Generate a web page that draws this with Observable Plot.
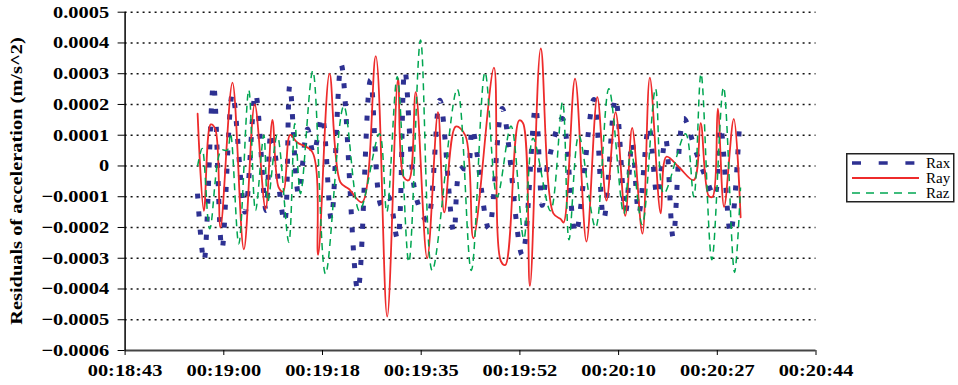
<!DOCTYPE html>
<html><head><meta charset="utf-8">
<script src="https://cdn.jsdelivr.net/npm/d3@7"></script>
<script src="https://cdn.jsdelivr.net/npm/@observablehq/plot@0.6"></script>
<style>
body{margin:0;background:#fff;}
#wrap{position:relative;width:958px;height:385px;overflow:hidden;}
#wrap svg.plot{position:absolute;left:0;top:0;}
#legend{position:absolute;left:846px;top:153px;}
</style></head>
<body><div id="wrap"></div>
<script>
// Time axis: seconds elapsed since 00:18:43
const xTickLabels = ["00:18:43","00:19:00","00:19:18","00:19:35","00:19:52","00:20:10","00:20:27","00:20:44"];
const yTickValues = [-0.0006,-0.0005,-0.0004,-0.0003,-0.0002,-0.0001,0,0.0001,0.0002,0.0003,0.0004,0.0005];
const yTickLabels = ["\u22120.0006","\u22120.0005","\u22120.0004","\u22120.0003","\u22120.0002","\u22120.0001","0","0.0001","0.0002","0.0003","0.0004","0.0005"];
const seriesNames = ["Rax","Ray","Raz"];
const yTitle = "Residuals of acceleration (m/s^2)";

const raxT = [12.68,13.82,15.48,16.97,18.81,21.00,22.84,24.68,25.59,27.92,28.85,30.37,31.95,33.00,34.49,36.10,37.85,40.75,42.98,44.91,46.13,47.71,48.99,50.98,52.91,55.12,57.57,58.74,59.92,60.79,63.70,66.05,69.55,71.88,73.05,73.98,76.55,78.88,82.09,83.84,85.89,87.64,88.81,89.97,91.72,93.19,94.65,95.99,97.85,99.90,101.95,103.23,104.28,106.03,107.66];
const raxV = [-0.9e-4,-3.1e-4,2.65e-4,-2.7e-4,2.35e-4,-1.5e-4,2.36e-4,-1.45e-4,1.1e-4,-1.83e-4,2.63e-4,-0.9e-4,1.2e-4,0.4e-4,1.6e-4,-1.72e-4,3.3e-4,-4.05e-4,2.8e-4,-1.3e-4,-1.0e-4,-2.37e-4,3.09e-4,-1.03e-4,-1.77e-4,2.14e-4,-2.15e-4,-0.1e-4,-0.09e-4,1.22e-4,-2.04e-4,1.87e-4,-2.9e-4,1.92e-4,-1.28e-4,0.0e-4,1.54e-4,-2.2e-4,2.16e-4,-1.72e-4,2.2e-4,-1.5e-4,0.78e-4,-1.55e-4,1.29e-4,-0.96e-4,0.89e-4,-2.32e-4,1.54e-4,0.5e-4,-0.5e-4,-1.0e-4,1.27e-4,-2.2e-4,1.54e-4];

const rayT = [12.7,13.8,15.0,15.8,16.7,18.8,20.8,22.7,24.6,25.8,26.9,27.7,28.9,30.1,32.8,33.8,35.8,37.7,39.2,41.5,43.9,45.9,47.8,48.8,49.7,50.9,52.9,54.8,55.9,57.9,59.6,61.0,64.6,65.8,66.6,69.0,69.7,70.9,72.8,75.0,76.3,76.8,78.8,80.8,82.7,84.3,85.9,87.6,88.8,90.6,91.9,93.8,94.8,97.0,99.6,100.8,102.2,102.9,103.8,104.9,106.6,107.8];
const rayV = [1.70e-4,-1.46e-4,1.35e-4,1.20e-4,-2.00e-4,2.71e-4,-2.71e-4,2.00e-4,-1.40e-4,1.50e-4,-0.70e-4,-0.83e-4,1.01e-4,0.77e-4,0.45e-4,-2.89e-4,3.00e-4,-0.53e-4,-0.75e-4,-1.18e-4,3.57e-4,-4.90e-4,2.84e-4,-0.37e-4,-0.46e-4,2.40e-4,-3.00e-4,1.75e-4,-1.51e-4,1.28e-4,0.99e-4,-2.35e-4,3.20e-4,-3.09e-4,-3.22e-4,1.48e-4,1.39e-4,-3.90e-4,3.82e-4,-1.54e-4,-1.73e-4,-1.84e-4,2.84e-4,-2.46e-4,2.24e-4,-1.13e-4,1.75e-4,-1.62e-4,1.24e-4,-2.20e-4,2.87e-4,-1.54e-4,0.30e-4,-0.04e-4,-0.46e-4,1.39e-4,-0.97e-4,-1.00e-4,1.86e-4,-1.33e-4,1.53e-4,-1.67e-4];

const razT = [12.7,13.5,14.83,16.83,17.88,18.46,19.91,21.66,22.84,24.29,24.99,26.64,28.67,29.72,30.72,32.87,35.10,38.30,41.05,44.55,45.83,47.66,49.69,51.74,53.79,58.16,60.63,63.03,65.17,67.59,69.83,71.44,74.50,76.61,77.74,79.46,82.39,84.72,87.34,88.60,90.56,92.89,94.35,98.15,99.60,100.86,102.76,104.80,106.73,107.78];
const razV = [0,0.57e-4,-2.04e-4,0.51e-4,0.51e-4,1.05e-4,-2.53e-4,2.47e-4,-1.45e-4,1.0e-4,-1.17e-4,1.0e-4,-2.48e-4,1.38e-4,-0.9e-4,3.09e-4,-3.51e-4,1.95e-4,-1.46e-4,1.05e-4,-1.5e-4,2.9e-4,-3.13e-4,4.1e-4,-3.4e-4,2.5e-4,-3.4e-4,3.05e-4,-1.0e-4,1.3e-4,-2.37e-4,0.9e-4,-1.46e-4,2.08e-4,-2.4e-4,1.0e-4,-2.0e-4,2.51e-4,-1.55e-4,0.5e-4,-1.9e-4,2.51e-4,-0.9e-4,1.05e-4,-1.0e-4,3.0e-4,-3.05e-4,2.56e-4,-3.46e-4,-0.7e-4];

const colors = {Rax: "#2e3192", Ray: "#ee2b2b", Raz: "#00a651"};
const toRows = (T, V) => T.map((t, i) => ({t, v: V[i]}));
const rax = toRows(raxT, raxV), ray = toRows(rayT, rayV), raz = toRows(razT, razV);

const x0 = 0, x1 = 121;
const step = (x1 - x0) / (xTickLabels.length - 1);
const xTickValues = xTickLabels.map((_, i) => x0 + i * step);
const yLabel = d => yTickLabels[yTickValues.findIndex(v => Math.abs(v - d) < 1e-9)];
const xLabel = d => xTickLabels[Math.round((d - x0) / step)];

const svg = Plot.plot({
  width: 958, height: 385,
  marginLeft: 124.6, marginRight: 142.5, marginTop: 11.7, marginBottom: 35,
  style: {fontFamily: '"Liberation Serif","Times New Roman",serif', fontSize: "17px", fontWeight: "bold", background: "white", color: "black", overflow: "visible"},
  x: {domain: [x0, x1]},
  y: {domain: [yTickValues[0], yTickValues[yTickValues.length - 1]]},
  marks: [
    Plot.ruleY(yTickValues.slice(1), {stroke: "#111", strokeWidth: 1.4, strokeDasharray: "2,4"}),
    Plot.line(rax, {x: "t", y: "v", stroke: colors.Rax, strokeWidth: 5, strokeDasharray: "5,13", strokeLinecap: "butt", curve: "catmull-rom"}),
    Plot.line(ray, {x: "t", y: "v", stroke: colors.Ray, strokeWidth: 1.8, curve: "catmull-rom"}),
    Plot.line(raz, {x: "t", y: "v", stroke: colors.Raz, strokeWidth: 1.5, strokeDasharray: "7,5", strokeLinecap: "butt", curve: "catmull-rom"}),
    Plot.ruleY([yTickValues[0]], {stroke: "#444", strokeWidth: 2}),
    Plot.ruleX([x0], {stroke: "#000", strokeWidth: 1.5}),
    Plot.axisX({ticks: xTickValues, tickFormat: xLabel, tickSize: 5, tickPadding: 8, label: null}),
    Plot.axisY({ticks: yTickValues, tickFormat: yLabel, tickSize: 7, tickPadding: 9, label: null})
  ]
});
svg.classList.add("plot");
document.getElementById("wrap").appendChild(svg);

// widen the tick-label glyphs like the reference's bold serif
const SX = 1.2;
svg.querySelectorAll('g[aria-label="x-axis tick label"] text, g[aria-label="y-axis tick label"] text').forEach(el => {
  const tr = el.getAttribute("transform") || "";
  const xa = el.getAttribute("x");
  if (xa != null && xa !== "") {
    el.setAttribute("transform", `${tr} translate(${xa},0) scale(${SX},1) translate(${-xa},0)`);
  } else {
    el.setAttribute("transform", `${tr} scale(${SX},1)`);
  }
});

// y-axis title
d3.select(svg).append("text")
  .attr("transform", `translate(22,181) rotate(-90) scale(${SX},1)`)
  .attr("text-anchor", "middle")
  .attr("font-size", 17).attr("font-weight", "bold")
  .attr("fill", "black")
  .text(yTitle);

// legend
const lg = d3.select("#wrap").append("svg").attr("id", "legend").attr("width", 109).attr("height", 50);
lg.append("rect").attr("x", 0.75).attr("y", 0.75).attr("width", 107).attr("height", 48)
  .attr("fill", "white").attr("stroke", "#222").attr("stroke-width", 1.5);
const legStyles = {
  Rax: {w: 3.5, dash: "9,17.7"},
  Ray: {w: 1.8, dash: null},
  Raz: {w: 1.5, dash: "8,6"}
};
seriesNames.forEach((name, i) => {
  const cy = 10 + i * 15;
  const ln = lg.append("line").attr("x1", 6).attr("x2", 73).attr("y1", cy).attr("y2", cy)
    .attr("stroke", colors[name]).attr("stroke-width", legStyles[name].w);
  if (legStyles[name].dash) ln.attr("stroke-dasharray", legStyles[name].dash);
  lg.append("text").attr("x", 80).attr("y", cy).attr("dy", "0.35em")
    .attr("font-family", '"Liberation Serif","Times New Roman",serif').attr("font-size", 15)
    .attr("fill", "black").text(name);
});
</script>
</body></html>
